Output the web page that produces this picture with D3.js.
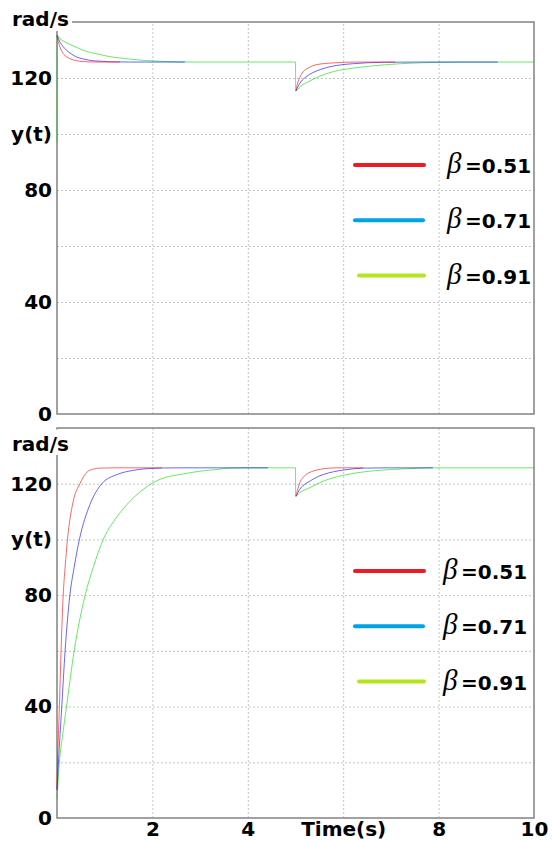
<!DOCTYPE html>
<html>
<head>
<meta charset="utf-8">
<script src="https://cdn.jsdelivr.net/npm/d3@7"></script>
<style>
  body { margin: 0; background: #fff; }
  svg { display: block; font-family: "DejaVu Sans", sans-serif; font-weight: bold; }
  .grid line { stroke: #c4c4c4; stroke-dasharray: 2,2; }
  .grid path { display: none; }
  .axis path, .axis line { display: none; }
  .axis text { font-size: 20px; fill: #000; font-family: "DejaVu Sans", sans-serif; font-weight: bold; }
</style>
</head>
<body>
<script>
const yTicks = [0, 40, 80, 100, 120];
const yTickLabels = ["0", "40", "80", "y(t)", "120"];
const yGrid = [20, 40, 60, 80, 100, 120];
const xGrid = [2, 4, 6, 8];
const xTicks = [2, 4, 6, 8, 10];
const xTickLabels = ["2", "4", "Time(s)", "8", "10"];
const betas = ["0.51", "0.71", "0.91"];
const plotColors = ["rgb(255,0,0)", "rgb(0,0,255)", "rgb(0,220,0)"];
const legendColors = ["#ed1c24", "#00a2e8", "#b5e61d"];

// upper plot: speed starts above the set point
const topRed = [[0,135.2],[0.03,133.0],[0.063,131.0],[0.13,128.7],[0.2,127.6],[0.27,126.9],[0.4,126.2],
  [0.55,125.85],[0.8,125.7],[1.32,125.7], null,
  [5.01,115.4],[5.04,117.8],[5.09,120.2],[5.16,122.2],[5.27,123.6],[5.45,124.8],[5.8,125.4],[6.3,125.7],[7.09,125.7]];
const topBlue = [[0,135.2],[0.063,132.8],[0.13,131.2],[0.2,129.9],[0.3,128.6],[0.41,127.5],[0.55,126.8],
  [0.69,126.3],[0.9,126.0],[1.1,125.8],[1.5,125.7],[2.68,125.7], null,
  [5.01,115.4],[5.06,117.2],[5.12,118.8],[5.22,120.4],[5.36,121.9],[5.55,123.2],[5.83,124.4],[6.2,125.1],
  [6.8,125.6],[7.5,125.7],[9.24,125.7]];
const topGreen = [[0,97],[0.004,135.2],[0.063,134.0],[0.15,133.0],[0.27,132.0],[0.4,131.0],[0.55,129.9],
  [0.7,129.1],[0.9,128.4],[1.05,127.8],[1.25,127.3],[1.5,126.8],[1.81,126.3],[2.1,126.0],[2.4,125.8],
  [2.9,125.7],[5.0,125.7],[5.004,115.4],[5.1,117.0],[5.25,118.5],[5.5,120.6],[5.8,122.3],[6.2,123.5],
  [6.6,124.3],[7.2,125.1],[8,125.6],[8.5,125.7],[10,125.7]];

// lower plot: speed starts from rest
const botRed = [[0,10.5],[0.01,20],[0.03,30],[0.05,40],[0.085,60],[0.13,80],[0.17,90],[0.22,100],
  [0.34,113.7],[0.48,120],[0.62,124],[0.75,125.2],[0.9,125.6],[1.2,125.7],[2.2,125.7], null,
  [5.01,115.5],[5.04,117.6],[5.09,120.4],[5.16,122.3],[5.23,123.4],[5.33,124.3],[5.44,124.9],[5.6,125.4],
  [5.86,125.7],[6.42,125.7]];
const botBlue = [[0,10],[0.03,20],[0.1,40],[0.17,60],[0.27,80],[0.36,90],[0.47,100],[0.69,112.5],
  [0.94,120],[1.26,123.3],[1.6,124.8],[2.0,125.5],[2.5,125.7],[4.42,125.7], null,
  [5.01,115.5],[5.05,116.8],[5.09,118.0],[5.18,119.6],[5.3,120.9],[5.44,122.3],[5.58,123.3],[5.8,124.3],
  [6.0,124.9],[6.42,125.6],[6.9,125.7],[7.88,125.7]];
const botGreen = [[0,6.8],[0.05,20],[0.12,30],[0.2,40],[0.36,60],[0.59,80],[0.76,90],[0.97,100],
  [1.23,107.5],[1.53,113.7],[1.98,120],[2.16,121.6],[2.65,123.5],[3.0,124.5],[3.35,125.1],[3.6,125.6],
  [4.0,125.7],[5.0,125.7],[5.004,115.5],[5.09,116.8],[5.3,118.6],[5.58,120.9],[6.0,123.0],[6.56,124.5],
  [7.26,125.3],[7.88,125.7],[10,125.7]];

const width = 555, height = 841;
const left = 57, right = 534;

const svg = d3.select("body").append("svg")
  .attr("width", width)
  .attr("height", height);

const x = d3.scaleLinear().domain([0, 10]).range([left, right]);

function drawPanel(top, bottom, series, opts) {
  const y = d3.scaleLinear().domain([0, 140]).range([bottom, top]);
  const g = svg.append("g");

  // grid
  g.append("g")
    .attr("class", "grid")
    .attr("transform", `translate(${left},0)`)
    .call(d3.axisLeft(y).tickValues(yGrid).tickSize(-(right - left)).tickFormat(""));
  g.append("g")
    .attr("class", "grid")
    .attr("transform", `translate(0,${bottom})`)
    .call(d3.axisBottom(x).tickValues(xGrid).tickSize(-(bottom - top)).tickFormat(""));

  // frame
  g.append("path")
    .attr("stroke", "#828282")
    .attr("stroke-width", 1.5)
    .attr("fill", "none")
    .attr("d", `M${left},${top}H${right}V${bottom}H${left}Z`);

  // curves, green under blue under red
  const line = d3.line()
    .defined(d => d)
    .x(d => x(d[0]))
    .y(d => y(d[1]))
    .curve(d3.curveMonotoneX);

  g.append("g")
    .attr("fill", "none")
    .attr("stroke-width", 1)
    .attr("stroke-opacity", 0.6)
    .selectAll("path")
    .data(series.map((s, i) => ({ s, i })).reverse())
    .join("path")
    .attr("stroke", d => plotColors[d.i])
    .attr("d", d => line(d.s));

  // y axis labels
  g.append("g")
    .attr("class", "axis")
    .attr("transform", `translate(${left},0)`)
    .call(d3.axisLeft(y).tickValues(yTicks).tickSize(0).tickPadding(5)
      .tickFormat((d, i) => yTickLabels[i]));

  // unit label with white box over the frame corner
  g.append("rect")
    .attr("x", 6)
    .attr("y", opts.unitBoxTop)
    .attr("width", 66)
    .attr("height", opts.unitBoxBottom - opts.unitBoxTop)
    .attr("fill", "#fff");
  g.append("text")
    .attr("x", 12)
    .attr("y", opts.unitBaseline)
    .attr("font-size", 20)
    .text("rad/s");

  if (opts.xLabels) {
    g.append("g")
      .attr("class", "axis")
      .attr("transform", `translate(0,${bottom})`)
      .call(d3.axisBottom(x).tickValues(xTicks).tickSize(0).tickPadding(4)
        .tickFormat((d, i) => xTickLabels[i]));
  }

  // legend
  const rows = g.append("g")
    .selectAll("g")
    .data(betas)
    .join("g")
    .attr("transform", (d, i) => `translate(0,${top + 143 + i * 55.3})`);
  rows.append("line")
    .attr("x1", (d, i) => i === 2 ? 359 : 355)
    .attr("x2", (d, i) => i === 1 ? 423 : 424)
    .attr("stroke", (d, i) => legendColors[i])
    .attr("stroke-width", 4)
    .attr("stroke-linecap", "round");
  rows.append("text")
    .attr("x", 447 + opts.legendShift)
    .attr("y", 8)
    .attr("font-family", "'Liberation Serif', serif")
    .attr("font-style", "italic")
    .attr("font-weight", "normal")
    .attr("font-size", 29)
    .text("\u03b2");
  rows.append("text")
    .attr("x", 465 + opts.legendShift)
    .attr("y", 8)
    .attr("font-size", 20)
    .text(d => "=" + d);
}

drawPanel(22, 414, [topRed, topBlue, topGreen],
  { unitBoxTop: 0, unitBoxBottom: 31, unitBaseline: 26, xLabels: false, legendShift: 0 });
drawPanel(428, 818, [botRed, botBlue, botGreen],
  { unitBoxTop: 429.5, unitBoxBottom: 455, unitBaseline: 451, xLabels: true, legendShift: -4 });
</script>
</body>
</html>
